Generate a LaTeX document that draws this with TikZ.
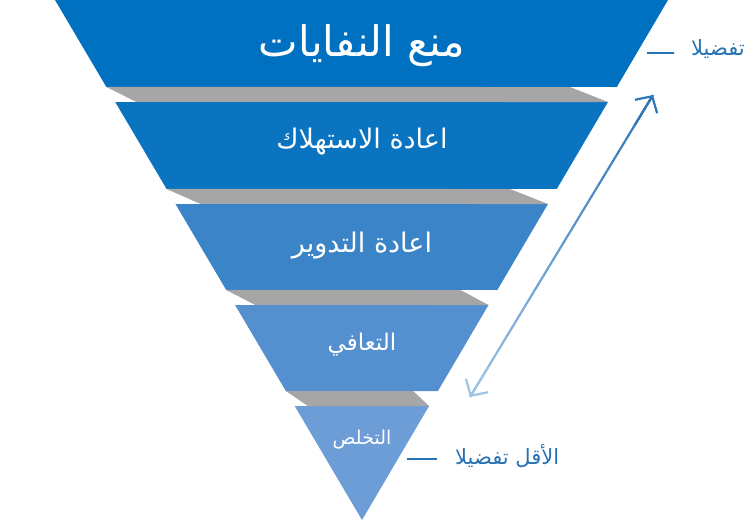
\documentclass[tikz,border=0pt]{standalone}
\usepackage{fontspec}
\usepackage{tikz}
\usetikzlibrary{calc,arrows.meta}
\newfontfamily\arabicfont[Script=Arabic]{DejaVu Sans}
\TeXXeTstate=1

\definecolor{bandA}{HTML}{0070C0}
\definecolor{bandB}{HTML}{0A74C1}
\definecolor{bandC}{HTML}{3B84C7}
\definecolor{bandD}{HTML}{5490D0}
\definecolor{bandE}{HTML}{6C9DD6}
\definecolor{greyband}{HTML}{A6A6A6}
\definecolor{labelblue}{HTML}{2472B5}
\definecolor{arrowhi}{HTML}{2E75B6}
\definecolor{arrowlo}{HTML}{9DC3E6}

\tikzset{
    bandtext/.style={text=white, inner sep=0pt},
    sidetext/.style={text=labelblue, inner sep=0pt, anchor=base west,
        font=\arabicfont\fontsize{21}{25}\selectfont},
    sideline/.style={labelblue, line width=1.2pt},
    barb/.style={line width=2.2pt, line cap=butt},
}

\begin{document}
\begin{tikzpicture}[x=1pt, y=-1pt]
    \useasboundingbox (0,0) rectangle (750,525);
    \coordinate (tl) at (55,0);
    \coordinate (tr) at (668,0);
    \coordinate (ap) at (362,520);

    % the five bands of the funnel
    \foreach \t/\b/\c in {0/87/bandA, 102/189/bandB, 204/290/bandC, 305/391/bandD, 406/520/bandE} {
        \fill[\c] ($(tl)!\t/520!(ap)$) -- ($(tr)!\t/520!(ap)$)
            -- ($(tr)!\b/520!(ap)$) -- ($(tl)!\b/520!(ap)$) -- cycle;
    }

    % grey steps between the bands
    \foreach \b/\t/\l/\r in {87/102/30/38, 189/204/34/38, 290/305/29/28, 391/406/22/16} {
        \fill[greyband] ($(tl)!\b/520!(ap)$) -- ($(tr)!\t/520!(ap)+(-\r,\b-\t)$)
            -- ($(tr)!\t/520!(ap)$) -- ($(tl)!\b/520!(ap)+(\l,\t-\b)$) -- cycle;
    }

    \node[bandtext, font=\arabicfont\fontsize{42}{48}\selectfont] (prevent) at (362,46) {\beginR منع النفايات\endR};
    \node[bandtext, font=\arabicfont\fontsize{27}{32}\selectfont] (reuse) at (362,142) {\beginR اعادة الاستهلاك\endR};
    \node[bandtext, font=\arabicfont\fontsize{27}{32}\selectfont] (recycle) at (362,246) {\beginR اعادة التدوير\endR};
    \node[bandtext, font=\arabicfont\fontsize{23}{28}\selectfont] (recover) at (362,345) {\beginR التعافي\endR};
    \node[bandtext, font=\arabicfont\fontsize{19}{23}\selectfont] (dispose) at (362,440) {\beginR التخلص\endR};

    % side labels
    \node[sidetext] (best) at (691,55) {\beginR تفضيلا\endR};
    \node[sidetext] (worst) at (455,464) {\beginR الأقل تفضيلا\endR};
    \coordinate (bestA) at (647,53);
    \coordinate (bestB) at (674,53);
    \coordinate (worstA) at (407,459);
    \coordinate (worstB) at (437,459);
    \draw[sideline] (bestA) -- (bestB);
    \draw[sideline] (worstA) -- (worstB);

    % two-way arrow, dark at the top, light at the bottom
    \coordinate (hi) at (653,95);
    \coordinate (lo) at (470,397);
    \foreach \i in {0,1,...,19} {
        \pgfmathtruncatemacro\p{100-5*\i}
        \draw[barb, arrowhi!\p!arrowlo] ($(hi)!\i/20!(lo)$) -- ($(hi)!\i/20+0.05!(lo)$);
    }
    \draw[barb, arrowhi, -{Straight Barb[length=12pt, width=26pt]}] ($(hi)!0.1!(lo)$) -- (hi);
    \draw[barb, arrowlo, -{Straight Barb[length=12pt, width=26pt]}] ($(lo)!0.1!(hi)$) -- (lo);
\end{tikzpicture}
\end{document}
